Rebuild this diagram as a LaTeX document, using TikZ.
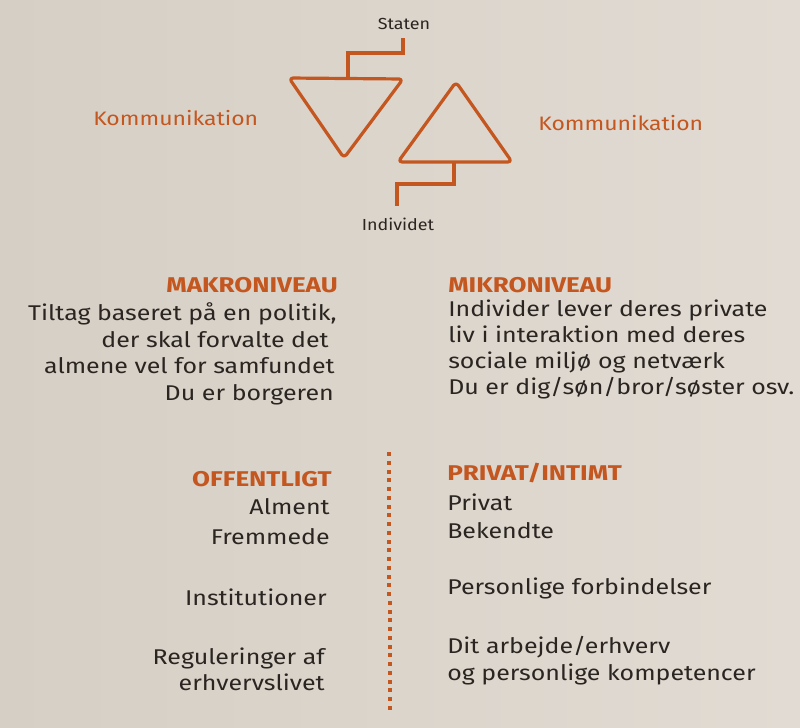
\documentclass[tikz,border=0pt]{standalone}
\usepackage{fontspec}
\setmainfont{Fira Sans}[FakeStretch=1.17]
\newfontfamily\headfamily{Fira Sans}[FakeStretch=1.22]
\newfontfamily\commfamily{Fira Sans}[FakeStretch=1.18]
\newfontfamily\smallfamily{Fira Sans}[FakeStretch=1.12]
\definecolor{paper}{HTML}{D6CFC5}
\definecolor{paperlight}{HTML}{E1DBD3}
\definecolor{rust}{HTML}{C4561F}
\definecolor{ink}{HTML}{2B2522}
\begin{document}
\begin{tikzpicture}[x=0.75pt,y=-0.75pt,
  frame/.style={draw=rust,line width=2.4pt,rounded corners=3pt,line join=round},
  wire/.style={draw=rust,line width=2.4pt},
  head/.style={text=rust,font=\headfamily\bfseries\fontsize{16}{19}\selectfont,inner sep=0pt},
  body/.style={text=ink,font=\fontsize{16}{19}\selectfont,inner sep=0pt},
  comm/.style={text=rust,font=\commfamily\fontsize{14.6}{17}\selectfont,inner sep=0pt},
  small/.style={text=ink,font=\smallfamily\fontsize{12}{14}\selectfont,inner sep=0pt},
  dot/.style={fill=rust,minimum size=3pt,inner sep=0pt,draw=none}]
% paper
\shade[left color=paper,right color=paperlight] (0,0) rectangle (800,728);
\useasboundingbox (0,0) rectangle (800,728);

% top diagram: state and individual
\node[small,anchor=base] (staten) at (404,29) {Staten};
\node[small,anchor=base] (individet) at (398,230) {Individet};
\node[comm,anchor=base west] (kl) at (93,125) {Kommunikation};
\node[comm,anchor=base west] (kr) at (538,130) {Kommunikation};

\coordinate (sTop) at (403,38);
\coordinate (sDown) at (348,78);
\coordinate (iUp) at (454,162);
\coordinate (iBot) at (397,206);

\draw[frame] (289,78) -- (403,79) -- (344,158) -- cycle;
\draw[frame] (456,82) -- (512,162) -- (398,162) -- cycle;
\draw[wire] (sTop) |- (375,53) -| (sDown);
\draw[wire] (iUp) |- (420,184) -| (iBot);

% macro / micro
\node[head,anchor=base east] (makro) at (338,292) {MAKRONIVEAU};
\node[body,anchor=base east] (m1) at (337,320) {Tiltag baseret på en politik,};
\node[body,anchor=base east] (m2) at (329,347) {der skal forvalte det};
\node[body,anchor=base east] (m3) at (335,373) {almene vel for samfundet};
\node[body,anchor=base east] (m4) at (334,400) {Du er borgeren};

\node[head,anchor=base west] (mikro) at (448,292) {MIKRONIVEAU};
\node[body,anchor=base west] (n1) at (448,316) {Individer lever deres private};
\node[body,anchor=base west] (n2) at (448,342) {liv i interaktion med deres};
\node[body,anchor=base west] (n3) at (448,368) {sociale miljø og netværk};
\node[body,anchor=base west] (n4) at (448,394) {Du er dig/søn/bror/søster osv.};

% public / private
\node[head,anchor=base east] (off) at (332,486) {OFFENTLIGT};
\node[body,anchor=base east] (o1) at (330,514) {Alment};
\node[body,anchor=base east] (o2) at (330,544) {Fremmede};
\node[body,anchor=base east] (o3) at (327,605) {Institutioner};
\node[body,anchor=base east] (o4) at (325,664) {Reguleringer af};
\node[body,anchor=base east] (o5) at (325,690) {erhvervslivet};

\node[head,anchor=base west] (priv) at (447,480) {PRIVAT/INTIMT};
\node[body,anchor=base west] (p1) at (447,510) {Privat};
\node[body,anchor=base west] (p2) at (447,538) {Bekendte};
\node[body,anchor=base west] (p3) at (447,594) {Personlige forbindelser};
\node[body,anchor=base west] (p4) at (447,653) {Dit arbejde/erhverv};
\node[body,anchor=base west] (p5) at (447,680) {og personlige kompetencer};

% dotted divider
\foreach \i in {0,...,29} {
  \node[dot] at ({388.5+0.06*\i}, {454+8.75*\i}) {};
}
\end{tikzpicture}
\end{document}
